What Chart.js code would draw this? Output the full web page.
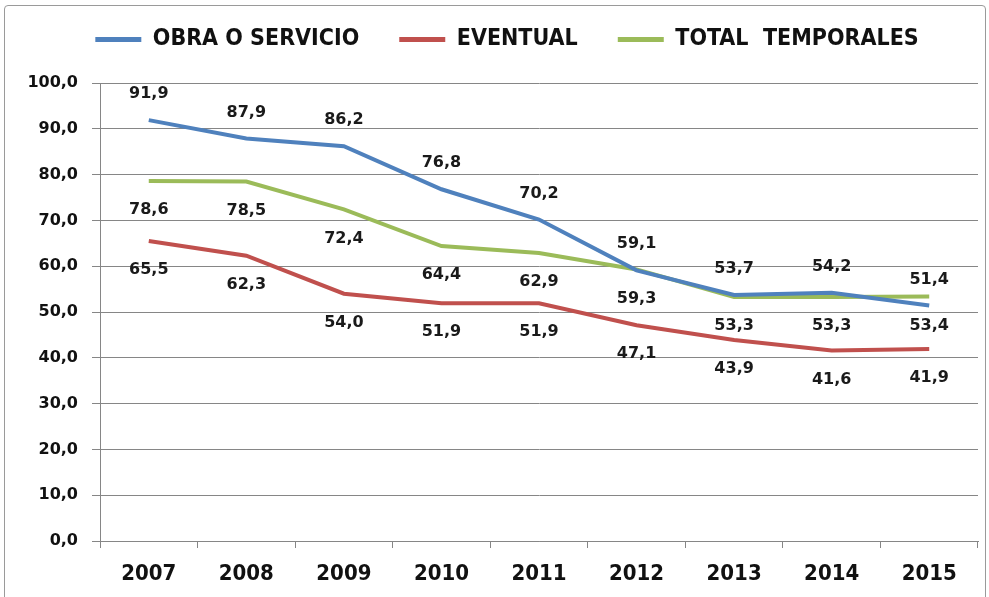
<!DOCTYPE html>
<html>
<head>
<meta charset="utf-8">
<script src="https://cdn.jsdelivr.net/npm/chart.js@4.4.1/dist/chart.umd.min.js"></script>
<style>
  html, body { margin: 0; padding: 0; background: #fff; }
  #wrap { position: relative; width: 989px; height: 597px; overflow: hidden; }
  #frame { position: absolute; left: 4px; top: 5px; width: 980px; height: 640px; border: 1px solid #9a9a9a; border-radius: 4px; }
  #box { position: absolute; left: 0; top: 0; width: 989px; height: 597px; }
</style>
</head>
<body>
<div id="wrap">
  <div id="frame"></div>
  <div id="box"><canvas id="chart"></canvas></div>
</div>
<script>
/* global Chart */
'use strict';

const YEARS = ['2007', '2008', '2009', '2010', '2011', '2012', '2013', '2014', '2015'];
const OBRA = [91.9, 87.9, 86.2, 76.8, 70.2, 59.1, 53.7, 54.2, 51.4];
const EVENTUAL = [65.5, 62.3, 54.0, 51.9, 51.9, 47.1, 43.9, 41.6, 41.9];
const TOTAL = [78.6, 78.5, 72.4, 64.4, 62.9, 59.3, 53.3, 53.3, 53.4];

const TOP_PAD = -12;
const PLOT_TOP = 83;

const fmt = (v) => v.toFixed(1).replace('.', ',');

// legend takes a fixed block so the plot starts where it should,
// and sits a little right of centre like the original
const legendGap = {
  id: 'legendGap',
  beforeInit(chart) {
    const legend = chart.legend;
    const fit = legend.fit;
    legend.fit = function () {
      fit.bind(legend)();
      this.height = PLOT_TOP - TOP_PAD;
    };
    const draw = legend.draw;
    legend.draw = function () {
      const ctx = chart.ctx;
      ctx.save();
      ctx.translate(18, 0);
      draw.bind(legend)();
      ctx.restore();
    };
  },
};

// value labels next to each point
const valueLabels = {
  id: 'valueLabels',
  afterDatasetsDraw(chart) {
    const ctx = chart.ctx;
    ctx.save();
    ctx.font = 'bold 16px "DejaVu Sans"';
    ctx.fillStyle = '#1a1a1a';
    ctx.textAlign = 'center';
    ctx.textBaseline = 'middle';
    chart.data.datasets.forEach((ds, i) => {
      const meta = chart.getDatasetMeta(i);
      meta.data.forEach((pt, j) => {
        ctx.fillText(fmt(ds.data[j]), pt.x, pt.y + ds.labelOffset);
      });
    });
    ctx.restore();
  },
};

const line = (label, data, color, labelOffset) => ({
  label,
  data,
  borderColor: color,
  backgroundColor: color,
  borderWidth: 4,
  pointRadius: 0,
  tension: 0,
  labelOffset,
});

new Chart(document.getElementById('chart'), {
  type: 'line',
  data: {
    labels: YEARS,
    datasets: [
      line('OBRA O SERVICIO', OBRA, '#4F81BD', -26),
      line('EVENTUAL', EVENTUAL, '#C0504D', 29),
      line('TOTAL  TEMPORALES', TOTAL, '#9BBB59', 29),
    ],
  },
  options: {
    responsive: true,
    maintainAspectRatio: false,
    animation: false,
    layout: { padding: { top: TOP_PAD, right: 11, left: 0, bottom: 0 } },
    plugins: {
      tooltip: { enabled: false },
      legend: {
        labels: {
          boxWidth: 46,
          boxHeight: 5,
          padding: 40,
          color: '#111',
          font: { family: '"DejaVu Sans Condensed", "DejaVu Sans"', weight: 'bold', size: 23 },
          generateLabels: (chart) =>
            Chart.defaults.plugins.legend.labels.generateLabels(chart).map((l) => ({ ...l, lineWidth: 0 })),
        },
      },
    },
    scales: {
      x: {
        offset: true,
        grid: { offset: true, drawOnChartArea: false, drawTicks: true, tickLength: 7, color: '#868686' },
        border: { color: '#868686' },
        afterFit: (scale) => { scale.height = 56; },
        ticks: {
          padding: 13,
          color: '#111',
          font: { family: '"DejaVu Sans Condensed", "DejaVu Sans"', weight: 'bold', size: 22 },
        },
      },
      y: {
        min: 0,
        max: 100,
        afterFit: (scale) => { scale.width = 100; },
        grid: { color: '#868686', tickLength: 8 },
        border: { color: '#868686' },
        ticks: {
          stepSize: 10,
          padding: 14,
          color: '#111',
          font: { family: '"DejaVu Sans"', weight: 'bold', size: 16 },
          callback: (v) => fmt(v),
        },
      },
    },
  },
  plugins: [legendGap, valueLabels],
});
</script>
</body>
</html>
